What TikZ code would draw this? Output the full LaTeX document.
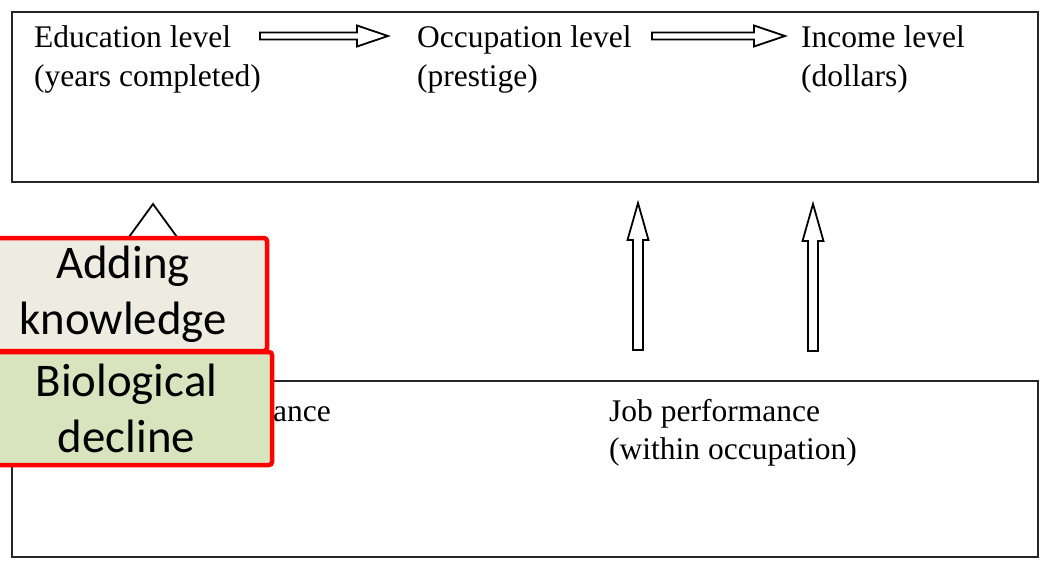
\documentclass[tikz,border=0pt]{standalone}
\usepackage{fontspec}
\setmainfont{Liberation Serif}
\newfontfamily\calibrifont{Carlito}
\usetikzlibrary{calc}

% horizontal block arrow from #1 to the tip #2
\newcommand{\blockH}[2]{%
  \draw[blk] ($(#1)+(0,-3.5)$) -- ($(#2)+(-31,-3.5)$) -- ($(#2)+(-31,-10.5)$)
    -- (#2) -- ($(#2)+(-31,10.5)$) -- ($(#2)+(-31,3.5)$) -- ($(#1)+(0,3.5)$) -- cycle;}
% vertical block arrow: #1 foot, #2 tip, #3 head length, #4 head half width, #5 shaft half width
\newcommand{\blockV}[5]{%
  \draw[blk] ($(#1)+(-#5,0)$) -- ($(#2)+(-#5,#3)$) -- ($(#2)+(-#4,#3)$)
    -- (#2) -- ($(#2)+(#4,#3)$) -- ($(#2)+(#5,#3)$) -- ($(#1)+(#5,0)$) -- cycle;}

\begin{document}
\begin{tikzpicture}[x=1pt,y=-1pt,
  frame/.style={draw=black!85, line width=1.6pt, inner sep=0pt, outer sep=0pt, anchor=north west},
  lbl/.style={anchor=base west, inner sep=0pt, font=\fontsize{31.5}{39}\selectfont},
  blk/.style={draw=black, line width=1.8pt, fill=white, line join=miter},
  tag/.style={draw=red, line width=4.5pt, rounded corners=3pt, inner sep=0pt,
    align=center, minimum height=113pt, font=\calibrifont\fontsize{46.8}{56}\selectfont},
]
\useasboundingbox (0,0) rectangle (1043,560);

% the two frames
\node[frame, minimum width=1026pt, minimum height=170pt] (upper) at (12,12) {};
\node[frame, minimum width=1026pt, minimum height=176pt] (lower) at (12,381) {};

% outcome chain
\node[lbl] (edu)   at (34,47)  {Education level};
\node[lbl] (edu2)  at (34,86)  {(years completed)};
\node[lbl] (occ)   at (417,47) {Occupation level};
\node[lbl] (occ2)  at (417,86) {(prestige)};
\node[lbl] (inc)   at (801,47) {Income level};
\node[lbl] (inc2)  at (801,86) {(dollars)};

\coordinate (a1s) at (260,36);
\coordinate (a1e) at (388,36);
\coordinate (a2s) at (652,36);
\coordinate (a2e) at (785,36);
\blockH{a1s}{a1e}
\blockH{a2s}{a2e}

% performance labels
\node[lbl, anchor=base east] (perf) at (331,421) {ance};
\node[lbl] (job)  at (609,421) {Job performance};
\node[lbl] (job2) at (609,459) {(within occupation)};

% upward arrows
\coordinate (v0f) at (153,350);
\coordinate (v0t) at (153,204);
\coordinate (v1f) at (638,350);
\coordinate (v1t) at (638,203);
\coordinate (v2f) at (813,351);
\coordinate (v2t) at (813,204);
\blockV{v0f}{v0t}{55}{40}{15}
\blockV{v1f}{v1t}{37}{10.5}{5}
\blockV{v2f}{v2t}{37}{10.5}{5}

% overlay tags
\node[tag, fill={rgb,255:red,238;green,235;blue,224}, minimum width=288pt]
  (adding) at (123,294.5) {\raisebox{-3pt}{Adding}\\\raisebox{-3pt}{knowledge}};
\node[tag, fill={rgb,255:red,215;green,228;blue,189}, minimum width=291pt]
  (decline) at (126.5,408.5) {\raisebox{-2pt}{Biological}\\\raisebox{-2pt}{decline}};
\end{tikzpicture}
\end{document}
